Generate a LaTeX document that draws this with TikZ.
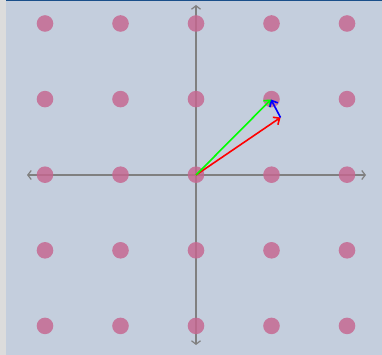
\documentclass[tikz,border=0pt]{standalone}
\usetikzlibrary{arrows.meta}
\definecolor{bgc}{HTML}{C4CEDD}
\definecolor{stripc}{HTML}{DCDCDC}
\definecolor{topc}{HTML}{1A4F8A}
\definecolor{dotc}{HTML}{C6668F}
\definecolor{axisc}{HTML}{808080}
\begin{document}
\begin{tikzpicture}[x=1pt,y=-1pt,
  dotstyle/.style={fill=dotc,fill opacity=0.82,draw=none},
  axisline/.style={draw=axisc,line width=1.2pt,{Straight Barb[length=3.5pt,width=9pt]}-{Straight Barb[length=3.5pt,width=9pt]}},
  vec/.style={line width=1.6pt,-{Straight Barb[length=5pt,width=9pt]}}]
\useasboundingbox (0,0) rectangle (382,355);
\fill[bgc] (0,0) rectangle (382,355);
\fill[stripc] (0,0) rectangle (6,355);
\fill[topc] (6,0) rectangle (382,1.3);
% axes
\coordinate (xl) at (27,175);
\coordinate (xr) at (366,175);
\coordinate (yt) at (196,5);
\coordinate (yb) at (196,345);
\draw[axisline] (xl) -- (xr);
\draw[axisline] (yt) -- (yb);
% dots
\foreach \i in {0,...,4}{
  \foreach \j in {0,...,4}{
    \fill[dotstyle] ({45+75.5*\i},{23.5+75.6*\j}) circle (8.3);
  }
}
% vectors
\coordinate (o) at (196,175);
\coordinate (r) at (280.5,117.5);
\coordinate (g) at (271,99.5);
\draw[vec,red] (o) -- (r);
\draw[vec,green] (o) -- (g);
\draw[vec,blue] (r) -- (g);
\end{tikzpicture}
\end{document}
